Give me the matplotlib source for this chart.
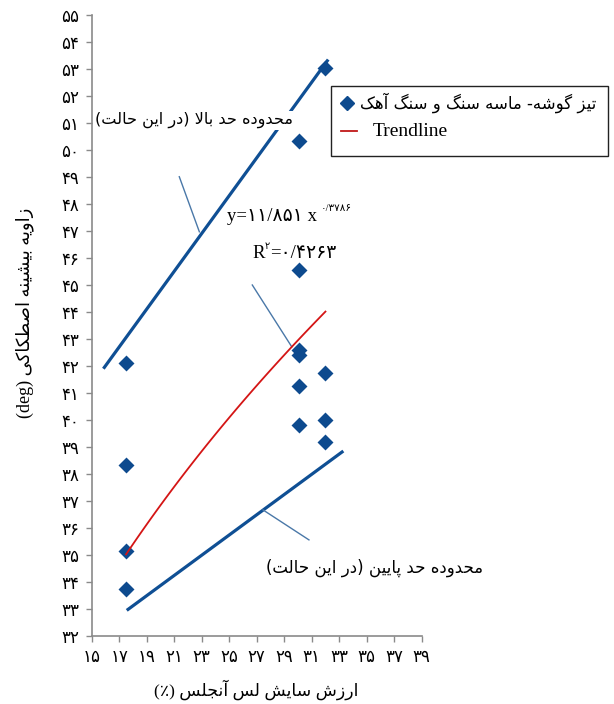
import matplotlib
matplotlib.use("Agg")
import matplotlib.pyplot as plt
from matplotlib.lines import Line2D
from matplotlib.patches import Rectangle
import numpy as np

# ---------------- data ----------------
x_points = [17.5, 17.5, 17.5, 17.5,
            30.1, 30.1, 30.1, 30.1, 30.1, 30.1,
            32.0, 32.0, 32.0, 32.0]
y_points = [42.1, 38.35, 35.15, 33.75,
            50.35, 45.55, 42.6, 42.4, 41.25, 39.8,
            53.05, 41.75, 40.0, 39.2]
trend_coef = 11.851
trend_exp = 0.3786
upper_x = [15.85, 32.2]
upper_y = [41.9, 53.35]
lower_x = [17.55, 33.3]
lower_y = [32.95, 38.85]
x_ticks = list(range(15, 40, 2))
y_ticks = list(range(32, 56))

label_upper = "محدوده حد بالا (در این حالت)"
label_lower = "محدوده حد پایین (در این حالت)"
legend_scatter = "تیز گوشه- ماسه سنگ و سنگ آهک"
legend_trend = "Trendline"
x_title = "ارزش سایش لس آنجلس (٪)"
y_title_fa = "زاویه بیشینه اصطکاکی"
y_title_en = "(deg)"

# ---------------- minimal Arabic/Persian shaping ----------------
FORMS = {
    '\u0627': ('\uFE8D', '\uFE8E', None, None),
    '\u0622': ('\uFE81', '\uFE82', None, None),
    '\u0628': ('\uFE8F', '\uFE90', '\uFE91', '\uFE92'),
    '\u067E': ('\uFB56', '\uFB57', '\uFB58', '\uFB59'),
    '\u062A': ('\uFE95', '\uFE96', '\uFE97', '\uFE98'),
    '\u062B': ('\uFE99', '\uFE9A', '\uFE9B', '\uFE9C'),
    '\u062C': ('\uFE9D', '\uFE9E', '\uFE9F', '\uFEA0'),
    '\u0686': ('\uFB7A', '\uFB7B', '\uFB7C', '\uFB7D'),
    '\u062D': ('\uFEA1', '\uFEA2', '\uFEA3', '\uFEA4'),
    '\u062E': ('\uFEA5', '\uFEA6', '\uFEA7', '\uFEA8'),
    '\u062F': ('\uFEA9', '\uFEAA', None, None),
    '\u0630': ('\uFEAB', '\uFEAC', None, None),
    '\u0631': ('\uFEAD', '\uFEAE', None, None),
    '\u0632': ('\uFEAF', '\uFEB0', None, None),
    '\u0698': ('\uFB8A', '\uFB8B', None, None),
    '\u0633': ('\uFEB1', '\uFEB2', '\uFEB3', '\uFEB4'),
    '\u0634': ('\uFEB5', '\uFEB6', '\uFEB7', '\uFEB8'),
    '\u0635': ('\uFEB9', '\uFEBA', '\uFEBB', '\uFEBC'),
    '\u0636': ('\uFEBD', '\uFEBE', '\uFEBF', '\uFEC0'),
    '\u0637': ('\uFEC1', '\uFEC2', '\uFEC3', '\uFEC4'),
    '\u0638': ('\uFEC5', '\uFEC6', '\uFEC7', '\uFEC8'),
    '\u0639': ('\uFEC9', '\uFECA', '\uFECB', '\uFECC'),
    '\u063A': ('\uFECD', '\uFECE', '\uFECF', '\uFED0'),
    '\u0641': ('\uFED1', '\uFED2', '\uFED3', '\uFED4'),
    '\u0642': ('\uFED5', '\uFED6', '\uFED7', '\uFED8'),
    '\u06A9': ('\uFB8E', '\uFB8F', '\uFB90', '\uFB91'),
    '\u06AF': ('\uFB92', '\uFB93', '\uFB94', '\uFB95'),
    '\u0644': ('\uFEDD', '\uFEDE', '\uFEDF', '\uFEE0'),
    '\u0645': ('\uFEE1', '\uFEE2', '\uFEE3', '\uFEE4'),
    '\u0646': ('\uFEE5', '\uFEE6', '\uFEE7', '\uFEE8'),
    '\u0647': ('\uFEE9', '\uFEEA', '\uFEEB', '\uFEEC'),
    '\u0648': ('\uFEED', '\uFEEE', None, None),
    '\u06CC': ('\uFBFC', '\uFBFD', '\uFBFE', '\uFBFF'),
}
LAM_ALEF = {'\u0627': ('\uFEFB', '\uFEFC'), '\u0622': ('\uFEF5', '\uFEF6')}


def _dual(c):
    return c in FORMS and FORMS[c][2] is not None


def shape(s):
    out = []
    i = 0
    n = len(s)
    while i < n:
        c = s[i]
        if c not in FORMS:
            out.append(c)
            i += 1
            continue
        prev = s[i - 1] if i > 0 else ''
        join_prev = _dual(prev)
        if c == '\u0644' and i + 1 < n and s[i + 1] in LAM_ALEF:
            lig = LAM_ALEF[s[i + 1]]
            out.append(lig[1] if join_prev else lig[0])
            i += 2
            continue
        nxt = s[i + 1] if i + 1 < n else ''
        join_next = _dual(c) and nxt in FORMS
        iso, fin, ini, med = FORMS[c]
        if join_prev and join_next:
            g = med
        elif join_prev:
            g = fin
        elif join_next:
            g = ini
        else:
            g = iso
        out.append(g)
        i += 1
    return ''.join(out)


def rtl(s):
    v = shape(s)[::-1]
    return v.translate(str.maketrans('()', ')('))


FA_DIGITS = str.maketrans('0123456789', '۰۱۲۳۴۵۶۷۸۹')


def fa(n):
    return str(n).translate(FA_DIGITS)


# ---------------- figure ----------------
FA_FONT = ['DejaVu Sans']
SERIF = ['Liberation Serif', 'DejaVu Sans']

W, H = 614, 704
fig = plt.figure(figsize=(W / 100, H / 100), dpi=100)
ax = fig.add_axes([91.7 / W, 1 - 636 / H, (421.7 - 91.7) / W, (636 - 15) / H])
ax.set_xlim(15, 39)
ax.set_ylim(32, 55)

for side in ('top', 'right'):
    ax.spines[side].set_visible(False)
for side in ('left', 'bottom'):
    ax.spines[side].set_color('#8a8a8a')
    ax.spines[side].set_linewidth(1.2)

ax.set_xticks(x_ticks)
ax.set_xticklabels([fa(v) for v in x_ticks], family=FA_FONT, fontsize=12)
ax.set_yticks(y_ticks)
ax.set_yticklabels([fa(v) for v in y_ticks], family=FA_FONT, fontsize=12)
ax.tick_params(axis='both', direction='out', length=4, width=1, color='#8a8a8a', pad=5)

blue = '#0f4f94'
ax.plot(upper_x, upper_y, color=blue, lw=2.3, solid_capstyle='butt', zorder=2)
ax.plot(lower_x, lower_y, color=blue, lw=2.3, solid_capstyle='butt', zorder=2)

ax.scatter(x_points, y_points, marker='D', s=66, color='#0d4a8e', zorder=3, linewidths=0)

xt = np.linspace(min(x_points), max(x_points), 100)
ax.plot(xt, trend_coef * xt ** trend_exp, color='#d41515', lw=1.3, zorder=4)

# leader lines
lead = '#4a78a8'
ax.plot([21.37, 22.83], [49.01, 46.97], color=lead, lw=1.0)
ax.plot([26.68, 29.55], [45.0, 42.71], color=lead, lw=1.0)
ax.plot([27.46, 30.80], [36.67, 35.56], color=lead, lw=1.0)

# annotations
ax.text(22.45, 51.1, rtl(label_upper), family=FA_FONT, fontsize=11.6,
        ha='center', va='center', clip_on=False, zorder=2.2,
        bbox=dict(facecolor='white', edgecolor='none', pad=1.0))
ax.text(35.6, 34.52, rtl(label_lower), family=FA_FONT, fontsize=12,
        ha='center', va='center', clip_on=False)

t1 = ax.text(24.84, 47.52, 'y=' + fa('11/851') + ' x', family=SERIF, fontsize=13.5,
             ha='left', va='center')
ax.annotate(fa('0/3786'), xy=(1, 0.75), xycoords=t1, xytext=(3, 0), textcoords='offset points',
            family=SERIF, fontsize=7.5, ha='left', va='bottom')
tR = ax.text(26.7, 46.15, 'R', family=SERIF, fontsize=13.5, ha='left', va='center')
tsup = ax.annotate(fa('2'), xy=(1, 0.7), xycoords=tR, family=SERIF, fontsize=7,
                   ha='left', va='bottom')
ax.annotate('=' + fa('0/4263'), xy=(1, 0), xycoords=(tsup, tR), family=SERIF, fontsize=13.5,
            ha='left', va='bottom')

# axis titles
fig.text(256 / W, 1 - 690 / H, rtl(x_title), family=SERIF, fontsize=12.5,
         ha='center', va='center')
fig.text(25 / W, 1 - 313 / H, y_title_en + ' ' + rtl(y_title_fa), family=SERIF, fontsize=13,
         ha='center', va='center', rotation=90)

# legend (drawn manually)
bx0, by0, bx1, by1 = 331, 86, 608, 156
fig.patches.append(Rectangle((bx0 / W, 1 - by1 / H), (bx1 - bx0) / W, (by1 - by0) / H,
                             transform=fig.transFigure, facecolor='white',
                             edgecolor='#222222', lw=1.0, zorder=5))
fig.lines.append(Line2D([347 / W], [1 - 103 / H], marker='D', markersize=7.5,
                        color='#0d4a8e', transform=fig.transFigure, zorder=6))
fig.text(360 / W, 1 - 103 / H, rtl(legend_scatter), family=FA_FONT, fontsize=12,
         ha='left', va='center', zorder=6)
fig.lines.append(Line2D([341 / W, 357 / W], [1 - 131 / H, 1 - 131 / H], color='#c01818',
                        lw=1.3, transform=fig.transFigure, zorder=6))
fig.text(373 / W, 1 - 131 / H, legend_trend, family=SERIF, fontsize=14,
         ha='left', va='center', zorder=6)

fig.savefig('out.png', dpi=100)
